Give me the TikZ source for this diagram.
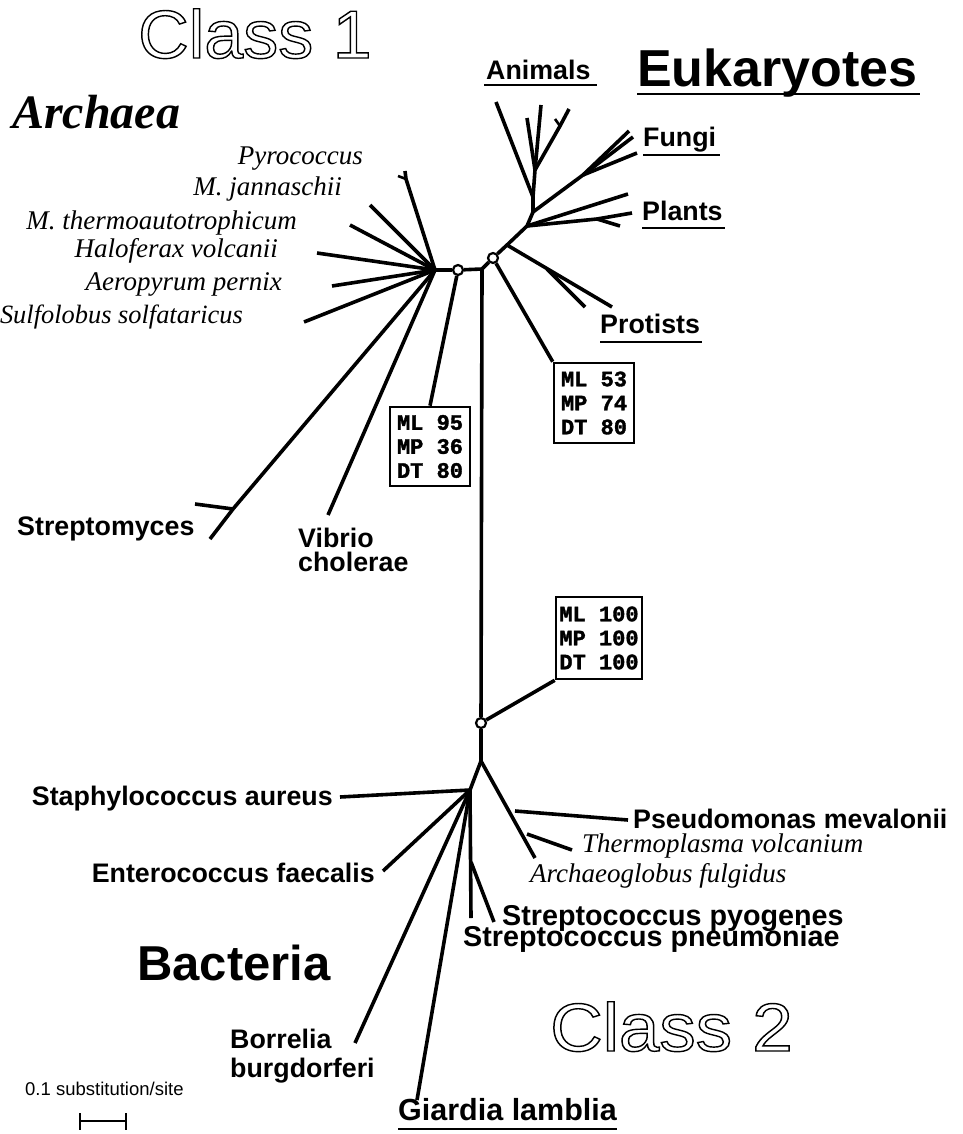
\documentclass[tikz,border=0pt]{standalone}
\usepackage{fontspec}
\setmainfont{Liberation Serif}
\setsansfont{Liberation Sans}
\setmonofont{Liberation Mono}
\newfontfamily\boxfont{Liberation Mono}[FakeBold=1.6]
\usetikzlibrary{calc}
\newcommand\outlinetext[1]{\special{pdf:literal direct 1 Tr 1.4 w}#1\special{pdf:literal direct 0 Tr}}
\newcommand\tightlines{\lineskiplimit=-100pt\relax}
\tikzset{
  br/.style={line width=3.6pt, line join=round},
  jn/.style={circle, draw, fill=white, inner sep=0pt, minimum size=10pt, line width=2.2pt},
  sl/.style={inner sep=0pt, font=\sffamily\bfseries\fontsize{26.8}{28}\selectfont},
  il/.style={inner sep=0pt, font=\itshape\fontsize{27}{29}\selectfont},
  bs/.style={draw, line width=2.6pt, inner sep=0pt, align=left, font=\boxfont\bfseries\fontsize{22}{24}\selectfont},
  ul/.style={line width=2.6pt},
  cls/.style={inner sep=0pt, font=\sffamily\fontsize{68}{70}\selectfont}
}
\begin{document}
\begin{tikzpicture}[x=1pt,y=-1pt]
\useasboundingbox[fill=white] (0,0) rectangle (962,1134);

% ---------- big titles ----------
\node[cls, anchor=base west] (class1) at (138,58) {\outlinetext{\scalebox{1.03}[1]{Class 1}}};
\node[cls, anchor=base west] (class2) at (550,1051) {\outlinetext{\scalebox{1.07}[1]{Class 2}}};
\node[inner sep=0pt, anchor=base west, font=\bfseries\itshape\fontsize{48}{50}\selectfont] (archaea) at (12,129) {Archaea};
\node[inner sep=0pt, anchor=base west, font=\sffamily\bfseries\fontsize{52}{54}\selectfont] (euk) at (637,87) {Eukaryotes};
\node[inner sep=0pt, anchor=base west, font=\sffamily\bfseries\fontsize{49}{51}\selectfont] (bact) at (137,980) {Bacteria};

% ---------- junctions ----------
\coordinate (A0) at (435,270);
\node[jn] (c1) at (458,270) {};
\coordinate (T0) at (482,269);
\node[jn] (c2) at (493,258) {};
\node[jn] (c3) at (481,723) {};
\coordinate (J) at (481,761);
\coordinate (K) at (470,790);

% ---------- support boxes ----------
\node[bs, minimum width=80pt, minimum height=79pt] (b1) at (430,446.5) {ML 95\\MP 36\\DT 80};
\node[bs, minimum width=80pt, minimum height=80pt] (b2) at (594,403) {ML 53\\MP 74\\DT 80};
\node[bs, minimum width=86pt, minimum height=82pt] (b3) at (599,638) {ML 100\\MP 100\\DT 100};

% ---------- trunk ----------
\draw[br] (A0) -- (c1) -- (T0) -- (c2);
\draw[br] (T0) -- (c3) -- (J);
\draw[br] (c1) -- (b1.north);
\draw[br] (c2) -- (b2.north west);
\draw[br] (c3) -- (b3.south west);

% ---------- Archaea ----------
\node[il, anchor=base east] (pyr) at (363,165) {Pyrococcus};
\node[il, anchor=base east] (jan) at (342,196) {M. jannaschii};
\node[il, anchor=base east] (mth) at (297,229) {M. thermoautotrophicum};
\node[il, anchor=base east] (hal) at (278,257) {Haloferax volcanii};
\node[il, anchor=base east] (aer) at (282,290) {Aeropyrum pernix};
\node[il, anchor=base east, font=\itshape\fontsize{26.4}{29}\selectfont] (sul) at (243,323) {Sulfolobus solfataricus};
\coordinate (pyrF) at (406,179);
\coordinate (pyrT) at (405,171);
\coordinate (pyrS) at (398,176);
\coordinate (janT) at (370,205);
\coordinate (mthT) at (350,225);
\coordinate (halT) at (317,253);
\coordinate (aerT) at (332,286);
\coordinate (sulT) at (304,322);
\draw[br] (A0) -- (pyrF) -- (pyrT);
\draw[br, line width=2.6pt] (pyrF) -- (pyrS);
\draw[br] (A0) -- (janT);
\draw[br] (A0) -- (mthT);
\draw[br] (A0) -- (halT);
\draw[br] (A0) -- (aerT);
\draw[br] (A0) -- (sulT);

% Streptomyces / Vibrio
\node[sl, anchor=base west] (strm) at (17,535) {Streptomyces};
\node[sl, anchor=base west, align=left, font=\sffamily\bfseries\fontsize{26.8}{24}\selectfont] (vib) at (298,571) {Vibrio\\cholerae};
\coordinate (strF) at (233,509);
\coordinate (strT) at (210,539);
\coordinate (strS) at (195,504);
\coordinate (vibT) at (328,515);
\draw[br] (A0) -- (strF) -- (strT);
\draw[br] (strF) -- (strS);
\draw[br] (A0) -- (vibT);

% ---------- Eukaryotes ----------
\coordinate (P) at (507,245);
\coordinate (Q) at (527,226);
\coordinate (R) at (533,212);
\coordinate (S) at (533,197);
\draw[br] (c2) -- (P) -- (Q) -- (R) -- (S);
% protists
\coordinate (protT) at (612,307);
\coordinate (protF) at (547,269);
\coordinate (protT2) at (585,307);
\draw[br] (P) -- (protT);
\draw[br] (protF) -- (protT2);
% plants
\coordinate (plT1) at (628,194);
\coordinate (plF) at (597,219);
\coordinate (plT2) at (632,213);
\coordinate (plT3) at (620,226);
\draw[br] (Q) -- (plT1);
\draw[br] (Q) -- (plF) -- (plT2);
\draw[br] (plF) -- (plT3);
% fungi
\coordinate (fuF) at (583,175);
\draw[br] (R) -- (fuF) -- (629,131);
\draw[br] (fuF) -- (633,137);
\draw[br] (fuF) -- (637,153);
% animals
\coordinate (anM) at (535,170);
\coordinate (anF) at (560,126);
\draw[br] (S) -- (496,102);
\draw[br] (S) -- (anM) -- (527,118);
\draw[br] (anM) -- (541,105);
\draw[br] (anM) -- (anF) -- (569,109);
\draw[br, line width=2.6pt] (anF) -- (555,119);

\node[sl, anchor=base west] (ani) at (486,80) {Animals};
\node[sl, anchor=base west] (fun) at (643,147) {Fungi};
\node[sl, anchor=base west] (pla) at (642,220) {Plants};
\node[sl, anchor=base west] (pro) at (600,333) {Protists};
\draw[ul] ([yshift=-7pt]euk.base west) -- ([yshift=-7pt,xshift=2pt]euk.base east);
\draw[ul] ([yshift=-5pt,xshift=-2pt]ani.base west) -- ([yshift=-5pt,xshift=6pt]ani.base east);
\draw[ul] ([yshift=-8pt]fun.base west) -- ([yshift=-8pt,xshift=4pt]fun.base east);
\draw[ul] ([yshift=-8pt]pla.base west) -- ([yshift=-8pt,xshift=2pt]pla.base east);
\draw[ul] ([yshift=-9pt]pro.base west) -- ([yshift=-9pt,xshift=2pt]pro.base east);

% ---------- Bacteria cluster ----------
\coordinate (rbE) at (535,858);
\coordinate (psF) at (515,811);
\coordinate (thF) at (527,834);
\coordinate (psT) at (628,820);
\coordinate (thT) at (572,850);
\draw[br] (J) -- (rbE);
\draw[br] (psF) -- (psT);
\draw[br] (thF) -- (thT);
\draw[br] (J) -- (K);
\coordinate (stT) at (340,797);
\coordinate (enT) at (383,871);
\coordinate (boT) at (355,1043);
\coordinate (giT) at (417,1100);
\coordinate (pnT) at (471,918);
\coordinate (pyF) at (471,862);
\coordinate (pyT) at (494,922);
\draw[br] (K) -- (stT);
\draw[br] (K) -- (enT);
\draw[br] (K) -- (boT);
\draw[br] (K) -- (giT);
\draw[br] (K) -- (pnT);
\draw[br] (pyF) -- (pyT);

\node[sl, anchor=base east] (sta) at (333,805) {Staphylococcus aureus};
\node[sl, anchor=base east] (ent) at (375,882) {Enterococcus faecalis};
\node[sl, anchor=base west] (pse) at (633,828) {Pseudomonas mevalonii};
\node[il, anchor=base west] (the) at (582,852) {Thermoplasma volcanium};
\node[il, anchor=base west] (arc) at (530,882) {Archaeoglobus fulgidus};
\node[sl, anchor=base west, align=left, font=\sffamily\bfseries\fontsize{28.7}{21}\selectfont\tightlines] (strp) at (463,946) {\hspace*{39pt}Streptococcus pyogenes\\Streptococcus pneumoniae};
\node[sl, anchor=base west, align=left, font=\sffamily\bfseries\fontsize{26.8}{29}\selectfont] (bor) at (230,1077) {Borrelia\\burgdorferi};
\node[sl, anchor=base west, font=\sffamily\bfseries\fontsize{30.5}{32}\selectfont] (gia) at (398,1120) {Giardia lamblia};
\draw[ul] ([yshift=-9pt]gia.base west) -- ([yshift=-9pt]gia.base east);

% ---------- scale ----------
\node[inner sep=0pt, anchor=base west, font=\sffamily\fontsize{18.5}{20}\selectfont] (scl) at (25,1095) {0.1 substitution/site};
\coordinate (sbL) at (80,1121);
\coordinate (sbR) at (126,1121);
\draw[line width=2pt] (sbL) -- (sbR);
\draw[line width=2.4pt] ([yshift=8pt]sbL) -- ([yshift=-9pt]sbL);
\draw[line width=2.4pt] ([yshift=8pt]sbR) -- ([yshift=-9pt]sbR);
\end{tikzpicture}
\end{document}
